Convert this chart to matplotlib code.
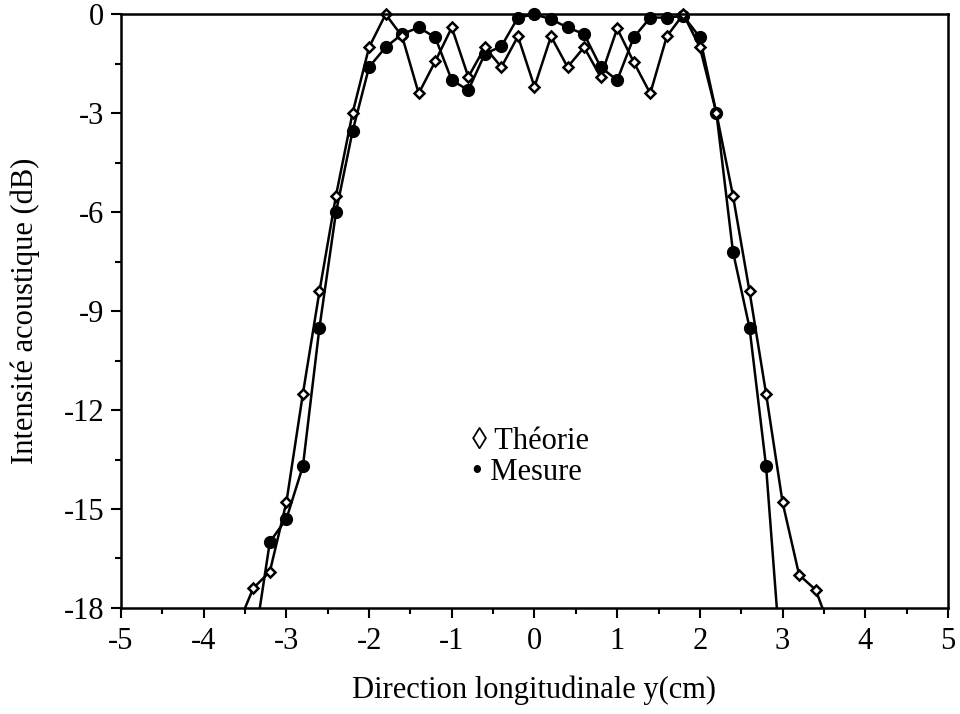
import numpy as np
import matplotlib
matplotlib.use('Agg')
import matplotlib.pyplot as plt
from matplotlib.ticker import MultipleLocator

# Font seperti Times, tanda minus biasa
plt.rcParams['font.family'] = ['Liberation Serif', 'DejaVu Serif']
plt.rcParams['axes.unicode_minus'] = False

# Posisi (cm), langkah 0.2
x_theorie = [-3.6, -3.4, -3.2, -3.0, -2.8, -2.6, -2.4, -2.2, -2.0, -1.8, -1.6, -1.4,
             -1.2, -1.0, -0.8, -0.6, -0.4, -0.2, 0.0, 0.2, 0.4, 0.6, 0.8, 1.0,
             1.2, 1.4, 1.6, 1.8, 2.0, 2.2, 2.4, 2.6, 2.8, 3.0, 3.2, 3.4, 3.6]
y_theorie = [-18.6, -17.4, -16.9, -14.8, -11.5, -8.4, -5.5, -3.0, -1.0, 0.0, -0.67, -2.4,
             -1.43, -0.4, -1.9, -1.0, -1.6, -0.67, -2.2, -0.67, -1.6, -1.0, -1.9, -0.43,
             -1.45, -2.4, -0.67, 0.0, -1.0, -3.0, -5.5, -8.4, -11.5, -14.8, -17.0, -17.45, -18.8]

x_mesure = [-3.4, -3.2, -3.0, -2.8, -2.6, -2.4, -2.2, -2.0, -1.8, -1.6, -1.4,
            -1.2, -1.0, -0.8, -0.6, -0.4, -0.2, 0.0, 0.2, 0.4, 0.6, 0.8, 1.0,
            1.2, 1.4, 1.6, 1.8, 2.0, 2.2, 2.4, 2.6, 2.8, 3.0]
y_mesure = [-19.3, -16.0, -15.3, -13.7, -9.5, -6.0, -3.55, -1.6, -1.0, -0.6, -0.4,
            -0.7, -2.0, -2.3, -1.2, -0.97, -0.1, 0.0, -0.15, -0.4, -0.6, -1.6, -2.0,
            -0.7, -0.1, -0.1, -0.05, -0.7, -3.0, -7.2, -9.5, -13.7, -20.3]

y_min, y_max = -18, 0

fig = plt.figure(figsize=(9.6, 7.14), dpi=100)
ax = fig.add_axes([0.126, 0.1485, 0.8615, 0.8315])

xt = np.array(x_theorie)
yt = np.array(y_theorie)
xm = np.array(x_mesure)
ym = np.array(y_mesure)

# Garis (dipotong di batas sumbu)
ax.plot(xt, yt, color='black', linewidth=1.8)
ax.plot(xm, ym, color='black', linewidth=1.8)

# Marker hanya untuk titik di dalam rentang
mt = yt >= y_min
mm = ym >= y_min
ax.plot(xm[mm], ym[mm], linestyle='none', marker='o', markersize=8.5,
        color='black', clip_on=False)
ax.plot(xt[mt], yt[mt], linestyle='none', marker='D', markersize=5.5,
        markerfacecolor='white', markeredgecolor='black', markeredgewidth=1.8,
        clip_on=False)

ax.set_xlim(-5, 5)
ax.set_ylim(y_min, y_max)
ax.xaxis.set_major_locator(MultipleLocator(1))
ax.xaxis.set_minor_locator(MultipleLocator(0.5))
ax.yaxis.set_major_locator(MultipleLocator(3))
ax.yaxis.set_minor_locator(MultipleLocator(1.5))
ax.tick_params(which='major', direction='out', length=7, width=1.5, labelsize=22)
ax.tick_params(which='minor', direction='out', length=4, width=1.5)
ax.tick_params(axis='x', pad=7)
ax.tick_params(axis='y', pad=5)
for s in ax.spines.values():
    s.set_linewidth(1.8)

ax.set_xlabel('Direction longitudinale y(cm)', fontsize=22, labelpad=14)
ax.set_ylabel('Intensité acoustique (dB)', fontsize=22, labelpad=17)

# Keterangan ditulis sebagai teks
ax.text(-0.75, -12.95, '\u25ca Théorie', fontsize=22, va='center', ha='left')
ax.text(-0.75, -13.9, '\u2022 Mesure', fontsize=22, va='center', ha='left')

plt.savefig('out.png', dpi=100)
